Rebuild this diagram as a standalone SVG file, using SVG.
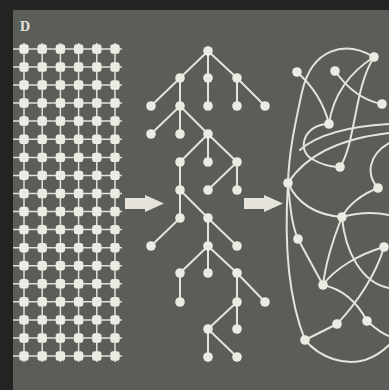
<svg xmlns="http://www.w3.org/2000/svg" xmlns:xlink="http://www.w3.org/1999/xlink" width="389" height="390" viewBox="0 0 389 390">
<style>
.bg{fill:#232421}
.panel{fill:#5a5d58}
.grid{stroke:#e4e2d8;stroke-width:1.5;fill:none}
.edge{stroke:#e6e4da;stroke-width:2;fill:none;stroke-linecap:round}
.net{stroke:#e6e4da;stroke-width:2;fill:none;stroke-linecap:round}
.node{fill:#ecebe3}
.arrow{fill:#e6e4da}
.lbl{font-family:"Liberation Serif",serif;font-weight:bold;font-size:14px;fill:#e8e6de}
</style>
<defs>
<rect id="sq" x="-4.7" y="-4.7" width="9.4" height="9.4" rx="2.8" class="node"/>
<circle id="dot" r="4.8" class="node"/>
<path id="arr" d="M0,-5.5 H20 V-8.5 L39,0 L20,8.5 V5.5 H0 Z" class="arrow"/>
</defs>
<rect class="bg" x="0" y="0" width="389" height="390"/>
<rect class="panel" x="13" y="10" width="376" height="380"/>
<text class="lbl" x="20" y="31">D</text>

<g id="connectors">
<path class="grid" d="M13,49H122M13,67H122M13,85H122M13,103H122M13,121H122M13,139.3H122M13,157.4H122M13,175.4H122M13,193.5H122M13,211.5H122M13,229.6H122M13,247.7H122M13,265.7H122M13,283.8H122M13,301.8H122M13,319.9H122M13,338H122M13,356H122M24,43V362M42.2,43V362M60.4,43V362M78.6,43V362M96.8,43V362M115,43V362"/>
<path class="edge" d="M208,51L180,78M208,51L208,78M208,51L237,78M180,78L151,106M180,78L180,106M208,78L208,106M237,78L237,106M237,78L265,106M180,106L151,134M180,106L180,134M180,106L208,134M208,134L180,162M208,134L208,162M208,134L237,162M180,162L180,190M237,162L208,190M237,162L237,190M180,190L180,218M180,190L208,218M180,218L151,246M208,218L208,246M208,218L237,246M208,246L180,273M208,246L208,273M208,246L237,273M180,273L180,302M237,273L237,302M237,273L265,302M237,302L208,329M237,302L237,329M208,329L208,357M208,329L237,357"/>
<g class="net">
<path d="M374,57C345,40 312,48 302,92C296,120 289,150 288,183"/>
<path d="M374,57C350,72 333,95 329,124"/>
<path d="M374,57C354,88 356,142 340,167"/>
<path d="M297,72C315,88 324,104 329,124"/>
<path d="M335,71C350,92 365,101 382,104"/>
<path d="M329,124C304,124 296,150 312,159C322,165 332,167 340,167"/>
<path d="M288,183C308,152 345,138 389,133"/>
<path d="M300,150C320,132 355,126 389,124"/>
<path d="M389,143C368,155 366,175 378,188"/>
<path d="M288,183C298,205 318,215 342,217"/>
<path d="M378,188C362,194 348,205 342,217"/>
<path d="M342,217C360,212 375,212 389,215"/>
<path d="M288,183C290,207 292,226 298,239"/>
<path d="M288,183C284,245 289,300 305,340"/>
<path d="M298,239L323,285"/>
<path d="M342,217C334,237 326,260 323,285"/>
<path d="M342,217C345,252 362,283 389,288"/>
<path d="M384,247C360,254 335,268 323,285"/>
<path d="M384,247C376,275 356,304 337,324"/>
<path d="M337,324L305,340"/>
<path d="M323,285C342,289 356,300 367,321"/>
<path d="M367,321C376,329 382,334 389,336"/>
<path d="M305,340C320,358 345,366 365,360C377,356 384,350 389,345"/>
</g>
<use href="#arr" x="125" y="203.5"/>
<use href="#arr" x="244" y="203.5"/>
</g>

<g id="grid-nodes">
<g id="r0"><use href="#sq" x="24" y="49"/><use href="#sq" x="42.2" y="49"/><use href="#sq" x="60.4" y="49"/><use href="#sq" x="78.6" y="49"/><use href="#sq" x="96.8" y="49"/><use href="#sq" x="115" y="49"/></g>
<g id="r1"><use href="#sq" x="24" y="67"/><use href="#sq" x="42.2" y="67"/><use href="#sq" x="60.4" y="67"/><use href="#sq" x="78.6" y="67"/><use href="#sq" x="96.8" y="67"/><use href="#sq" x="115" y="67"/></g>
<g id="r2"><use href="#sq" x="24" y="85"/><use href="#sq" x="42.2" y="85"/><use href="#sq" x="60.4" y="85"/><use href="#sq" x="78.6" y="85"/><use href="#sq" x="96.8" y="85"/><use href="#sq" x="115" y="85"/></g>
<g id="r3"><use href="#sq" x="24" y="103"/><use href="#sq" x="42.2" y="103"/><use href="#sq" x="60.4" y="103"/><use href="#sq" x="78.6" y="103"/><use href="#sq" x="96.8" y="103"/><use href="#sq" x="115" y="103"/></g>
<g id="r4"><use href="#sq" x="24" y="121"/><use href="#sq" x="42.2" y="121"/><use href="#sq" x="60.4" y="121"/><use href="#sq" x="78.6" y="121"/><use href="#sq" x="96.8" y="121"/><use href="#sq" x="115" y="121"/></g>
<g id="r5"><use href="#sq" x="24" y="139.3"/><use href="#sq" x="42.2" y="139.3"/><use href="#sq" x="60.4" y="139.3"/><use href="#sq" x="78.6" y="139.3"/><use href="#sq" x="96.8" y="139.3"/><use href="#sq" x="115" y="139.3"/></g>
<g id="r6"><use href="#sq" x="24" y="157.4"/><use href="#sq" x="42.2" y="157.4"/><use href="#sq" x="60.4" y="157.4"/><use href="#sq" x="78.6" y="157.4"/><use href="#sq" x="96.8" y="157.4"/><use href="#sq" x="115" y="157.4"/></g>
<g id="r7"><use href="#sq" x="24" y="175.4"/><use href="#sq" x="42.2" y="175.4"/><use href="#sq" x="60.4" y="175.4"/><use href="#sq" x="78.6" y="175.4"/><use href="#sq" x="96.8" y="175.4"/><use href="#sq" x="115" y="175.4"/></g>
<g id="r8"><use href="#sq" x="24" y="193.5"/><use href="#sq" x="42.2" y="193.5"/><use href="#sq" x="60.4" y="193.5"/><use href="#sq" x="78.6" y="193.5"/><use href="#sq" x="96.8" y="193.5"/><use href="#sq" x="115" y="193.5"/></g>
<g id="r9"><use href="#sq" x="24" y="211.5"/><use href="#sq" x="42.2" y="211.5"/><use href="#sq" x="60.4" y="211.5"/><use href="#sq" x="78.6" y="211.5"/><use href="#sq" x="96.8" y="211.5"/><use href="#sq" x="115" y="211.5"/></g>
<g id="r10"><use href="#sq" x="24" y="229.6"/><use href="#sq" x="42.2" y="229.6"/><use href="#sq" x="60.4" y="229.6"/><use href="#sq" x="78.6" y="229.6"/><use href="#sq" x="96.8" y="229.6"/><use href="#sq" x="115" y="229.6"/></g>
<g id="r11"><use href="#sq" x="24" y="247.7"/><use href="#sq" x="42.2" y="247.7"/><use href="#sq" x="60.4" y="247.7"/><use href="#sq" x="78.6" y="247.7"/><use href="#sq" x="96.8" y="247.7"/><use href="#sq" x="115" y="247.7"/></g>
<g id="r12"><use href="#sq" x="24" y="265.7"/><use href="#sq" x="42.2" y="265.7"/><use href="#sq" x="60.4" y="265.7"/><use href="#sq" x="78.6" y="265.7"/><use href="#sq" x="96.8" y="265.7"/><use href="#sq" x="115" y="265.7"/></g>
<g id="r13"><use href="#sq" x="24" y="283.8"/><use href="#sq" x="42.2" y="283.8"/><use href="#sq" x="60.4" y="283.8"/><use href="#sq" x="78.6" y="283.8"/><use href="#sq" x="96.8" y="283.8"/><use href="#sq" x="115" y="283.8"/></g>
<g id="r14"><use href="#sq" x="24" y="301.8"/><use href="#sq" x="42.2" y="301.8"/><use href="#sq" x="60.4" y="301.8"/><use href="#sq" x="78.6" y="301.8"/><use href="#sq" x="96.8" y="301.8"/><use href="#sq" x="115" y="301.8"/></g>
<g id="r15"><use href="#sq" x="24" y="319.9"/><use href="#sq" x="42.2" y="319.9"/><use href="#sq" x="60.4" y="319.9"/><use href="#sq" x="78.6" y="319.9"/><use href="#sq" x="96.8" y="319.9"/><use href="#sq" x="115" y="319.9"/></g>
<g id="r16"><use href="#sq" x="24" y="338"/><use href="#sq" x="42.2" y="338"/><use href="#sq" x="60.4" y="338"/><use href="#sq" x="78.6" y="338"/><use href="#sq" x="96.8" y="338"/><use href="#sq" x="115" y="338"/></g>
<g id="r17"><use href="#sq" x="24" y="356"/><use href="#sq" x="42.2" y="356"/><use href="#sq" x="60.4" y="356"/><use href="#sq" x="78.6" y="356"/><use href="#sq" x="96.8" y="356"/><use href="#sq" x="115" y="356"/></g>
</g>

<g id="tree-nodes">
<g id="t1"><use href="#dot" x="208" y="51"/></g>
<g id="t2"><use href="#dot" x="180" y="78"/></g>
<g id="t3"><use href="#dot" x="208" y="78"/></g>
<g id="t4"><use href="#dot" x="237" y="78"/></g>
<g id="t5"><use href="#dot" x="151" y="106"/></g>
<g id="t6"><use href="#dot" x="180" y="106"/></g>
<g id="t7"><use href="#dot" x="208" y="106"/></g>
<g id="t8"><use href="#dot" x="237" y="106"/></g>
<g id="t9"><use href="#dot" x="265" y="106"/></g>
<g id="t10"><use href="#dot" x="151" y="134"/></g>
<g id="t11"><use href="#dot" x="180" y="134"/></g>
<g id="t12"><use href="#dot" x="208" y="134"/></g>
<g id="t13"><use href="#dot" x="180" y="162"/></g>
<g id="t14"><use href="#dot" x="208" y="162"/></g>
<g id="t15"><use href="#dot" x="237" y="162"/></g>
<g id="t16"><use href="#dot" x="180" y="190"/></g>
<g id="t17"><use href="#dot" x="208" y="190"/></g>
<g id="t18"><use href="#dot" x="237" y="190"/></g>
<g id="t19"><use href="#dot" x="180" y="218"/></g>
<g id="t20"><use href="#dot" x="208" y="218"/></g>
<g id="t21"><use href="#dot" x="151" y="246"/></g>
<g id="t22"><use href="#dot" x="208" y="246"/></g>
<g id="t23"><use href="#dot" x="237" y="246"/></g>
<g id="t24"><use href="#dot" x="180" y="273"/></g>
<g id="t25"><use href="#dot" x="208" y="273"/></g>
<g id="t26"><use href="#dot" x="237" y="273"/></g>
<g id="t27"><use href="#dot" x="180" y="302"/></g>
<g id="t28"><use href="#dot" x="237" y="302"/></g>
<g id="t29"><use href="#dot" x="265" y="302"/></g>
<g id="t30"><use href="#dot" x="208" y="329"/></g>
<g id="t31"><use href="#dot" x="237" y="329"/></g>
<g id="t32"><use href="#dot" x="208" y="357"/></g>
<g id="t33"><use href="#dot" x="237" y="357"/></g>
</g>

<g id="net-nodes">
<g id="nA"><use href="#dot" x="297" y="72"/></g>
<g id="nB"><use href="#dot" x="335" y="71"/></g>
<g id="nC"><use href="#dot" x="374" y="57"/></g>
<g id="nD"><use href="#dot" x="382" y="104"/></g>
<g id="nE"><use href="#dot" x="329" y="124"/></g>
<g id="nF"><use href="#dot" x="340" y="167"/></g>
<g id="nG"><use href="#dot" x="288" y="183"/></g>
<g id="nH"><use href="#dot" x="378" y="188"/></g>
<g id="nI"><use href="#dot" x="342" y="217"/></g>
<g id="nJ"><use href="#dot" x="298" y="239"/></g>
<g id="nK"><use href="#dot" x="384" y="247"/></g>
<g id="nL"><use href="#dot" x="323" y="285"/></g>
<g id="nM"><use href="#dot" x="367" y="321"/></g>
<g id="nN"><use href="#dot" x="337" y="324"/></g>
<g id="nO"><use href="#dot" x="305" y="340"/></g>
</g>
</svg>
